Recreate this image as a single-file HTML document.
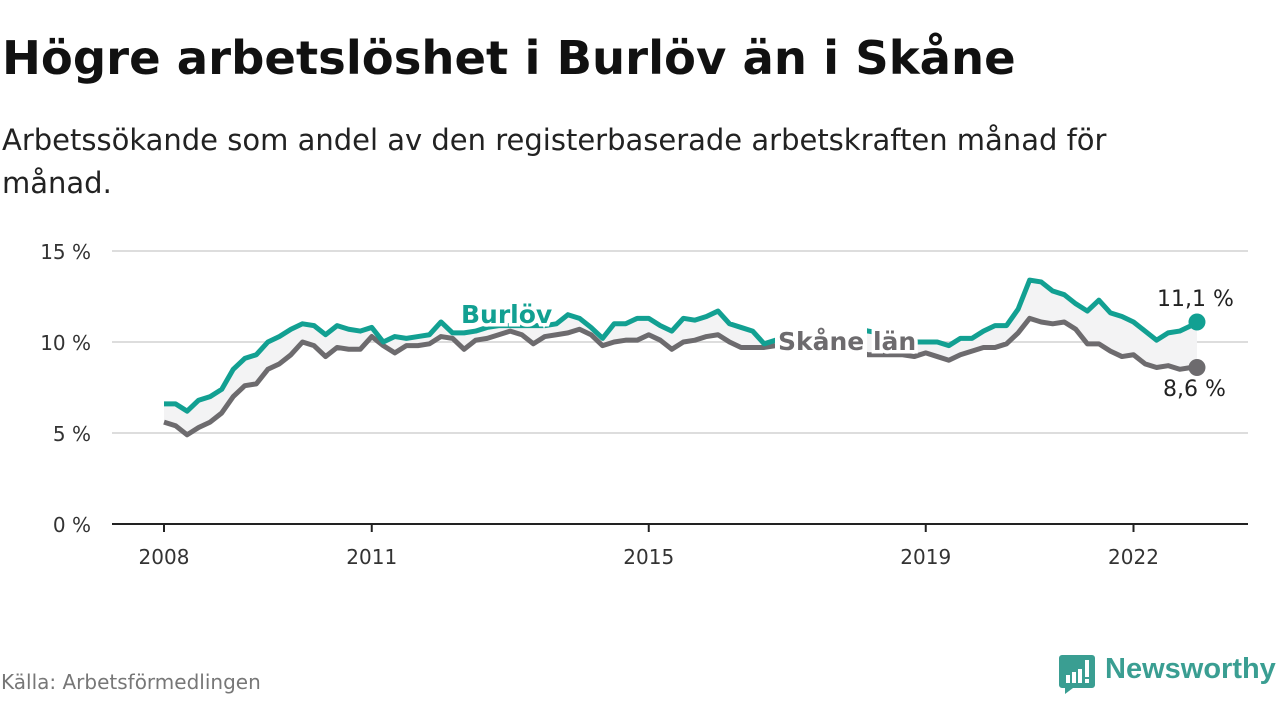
<!DOCTYPE html>
<html><head><meta charset="utf-8">
<style>
body{margin:0;width:1280px;height:720px;background:#fff;font-family:"DejaVu Sans",sans-serif;overflow:hidden;position:relative}
.t{position:absolute;white-space:nowrap}
</style></head><body>
<div class="t" style="left:2px;top:31px;font-size:46.5px;font-weight:bold;color:#111;font-family:'DejaVu Sans',sans-serif">Högre arbetslöshet i Burlöv än i Skåne</div>
<div class="t" style="left:2px;top:119px;font-size:29px;line-height:43px;color:#222;white-space:normal;width:1200px;font-family:'DejaVu Sans',sans-serif">Arbetssökande som andel av den registerbaserade arbetskraften månad för månad.</div>
<svg id="chart" width="1280" height="720" style="position:absolute;left:0;top:0"></svg>
<div class="t" style="left:1px;top:670px;font-size:20px;color:#777">Källa: Arbetsförmedlingen</div>
<div style="position:absolute;left:1059px;top:655px;">
<svg width="36" height="40" style="position:absolute;left:0;top:0"><path d="M3 0h30a3 3 0 0 1 3 3v27a3 3 0 0 1-3 3H14l-8 6v-6H3a3 3 0 0 1-3-3V3a3 3 0 0 1 3-3z" fill="#3a9e92"/><rect x="7" y="20" width="4" height="8" fill="#fff"/><rect x="13" y="17" width="4" height="11" fill="#fff"/><rect x="19" y="14" width="4" height="14" fill="#fff"/><rect x="26" y="5" width="4" height="17" fill="#fff"/><rect x="26" y="24" width="4" height="4" fill="#fff"/></svg>
<div class="t" style="left:46px;top:-2px;font-size:29px;font-weight:bold;color:#3a9e92;font-family:'Liberation Sans',sans-serif">Newsworthy</div>
</div>
<script>
const years=[2008,2011,2015,2019,2022];
const yTicks=[0,5,10,15];
const yTickLabels=["0 %","5 %","10 %","15 %"];
const burlov=[6.6,6.6,6.2,6.8,7.0,7.4,8.5,9.1,9.3,10.0,10.3,10.7,11.0,10.9,10.4,10.9,10.7,10.6,10.8,10.0,10.3,10.2,10.3,10.4,11.1,10.5,10.5,10.6,10.8,10.9,10.9,10.9,10.9,10.9,11.0,11.5,11.3,10.8,10.2,11.0,11.0,11.3,11.3,10.9,10.6,11.3,11.2,11.4,11.7,11.0,10.8,10.6,9.9,10.1,10.2,10.3,10.4,10.5,10.6,10.7,10.8,10.6,10.5,10.3,10.2,10.0,10.0,10.0,9.8,10.2,10.2,10.6,10.9,10.9,11.8,13.4,13.3,12.8,12.6,12.1,11.7,12.3,11.6,11.4,11.1,10.6,10.1,10.5,10.6,10.9,11.1];
const skane=[5.6,5.4,4.9,5.3,5.6,6.1,7.0,7.6,7.7,8.5,8.8,9.3,10.0,9.8,9.2,9.7,9.6,9.6,10.3,9.8,9.4,9.8,9.8,9.9,10.3,10.2,9.6,10.1,10.2,10.4,10.6,10.4,9.9,10.3,10.4,10.5,10.7,10.4,9.8,10.0,10.1,10.1,10.4,10.1,9.6,10.0,10.1,10.3,10.4,10.0,9.7,9.7,9.7,9.8,9.8,9.8,9.8,9.7,9.6,9.6,9.5,9.3,9.3,9.3,9.3,9.2,9.4,9.2,9.0,9.3,9.5,9.7,9.7,9.9,10.5,11.3,11.1,11.0,11.1,10.7,9.9,9.9,9.5,9.2,9.3,8.8,8.6,8.7,8.5,8.6,8.6];
const months=burlov.map((_,i)=>i*2);months[months.length-1]=179;
const svg=document.getElementById('chart');const NS='http://www.w3.org/2000/svg';
const X0=112,X1=1248;
const xYear=y=>164+(y-2008)*69.25;
const xM=m=>164+m*69.25/12;
const yV=v=>524-v*18.2;
const FF='DejaVu Sans';
function mk(tag,a,name){const e=document.createElementNS(NS,tag);for(const k in a)e.setAttribute(k,a[k]);


svg.appendChild(e);return e;}
yTicks.forEach((v,i)=>{
 if(v>0)mk('line',{x1:X0,x2:X1,y1:yV(v),y2:yV(v),stroke:'#ddd','stroke-width':2},'gridline');
 const t=mk('text',{x:91,y:yV(v)+8,'text-anchor':'end','font-size':20,fill:'#333','font-family':FF},'y-tick-label');t.textContent=yTickLabels[i];
});
mk('line',{x1:X0,x2:X1,y1:524,y2:524,stroke:'#222','stroke-width':2},'x-axis');
years.forEach(y=>{mk('line',{x1:xYear(y),x2:xYear(y),y1:524,y2:532,stroke:'#222','stroke-width':2},'x-tick');
 const t=mk('text',{x:xYear(y),y:564,'text-anchor':'middle','font-size':20,fill:'#333','font-family':FF},'x-tick-label');t.textContent=y;});
let fd='';burlov.forEach((v,i)=>fd+=(i?'L':'M')+xM(months[i])+' '+yV(v));
for(let i=skane.length-1;i>=0;i--)fd+='L'+xM(months[i])+' '+yV(skane[i]);
mk('path',{d:fd+'Z',fill:'#f3f3f4'},'gap-area');
function line(arr,c,n){let d='';arr.forEach((v,i)=>d+=(i?'L':'M')+xM(months[i])+' '+yV(v));
 mk('path',{d:d,fill:'none',stroke:c,'stroke-width':5,'stroke-linejoin':'round'},n);
 const L=arr.length-1;mk('circle',{cx:xM(months[L]),cy:yV(arr[L]),r:8.5,fill:c},n+'-end-dot');}
line(skane,'#6d6b6e','skane-line');
line(burlov,'#12a092','burlov-line');
mk('rect',{x:775,y:322,width:92,height:38,fill:'#fff'},'skane-label-bg');
function lab(x,y,s,c,n,bold,halo,size){const t=mk('text',{x:x,y:y,'font-size':size||26,'font-weight':bold?'bold':'normal',fill:c,'font-family':FF,stroke:halo?'#fff':'none','stroke-width':halo?7:0,'paint-order':'stroke'},n);t.textContent=s;}
lab(461,323,'Burlöv','#12a092','burlov-label',true,true,25);
lab(778,350,'Skåne län','#6d6b6e','skane-label',true,true,25);
lab(1157,306,'11,1 %','#222','burlov-end-value',false,true,22);
lab(1163,396,'8,6 %','#222','skane-end-value',false,true,22);
</script>
</body></html>
